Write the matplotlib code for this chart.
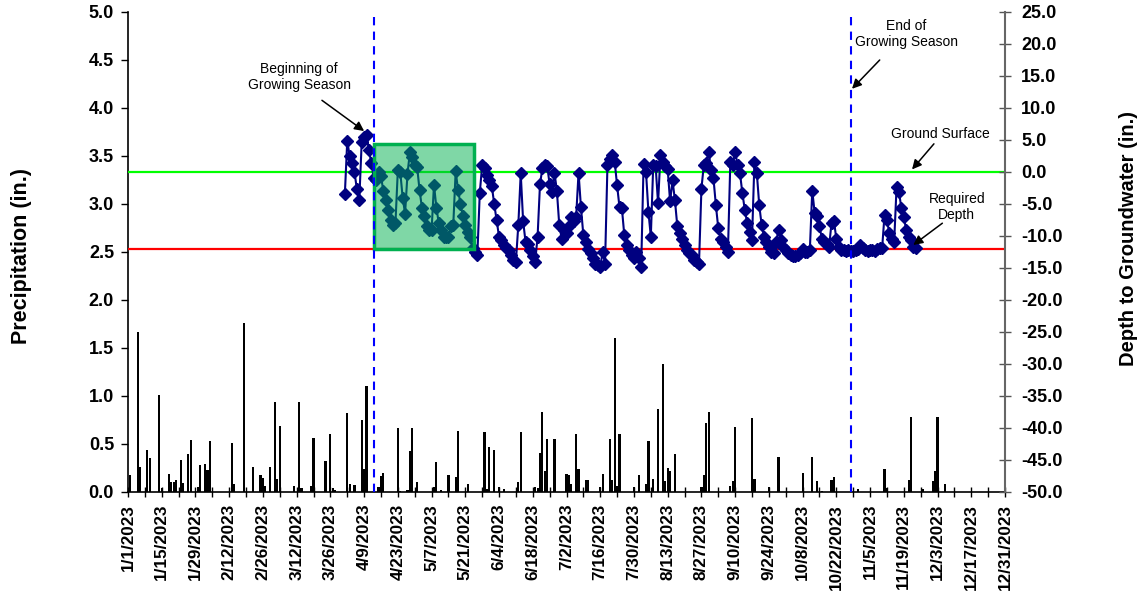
import datetime as dt
import matplotlib
matplotlib.use("Agg")
import matplotlib.pyplot as plt
import matplotlib.dates as mdates
from matplotlib.patches import Rectangle
from matplotlib.ticker import FixedLocator, MultipleLocator, FormatStrFormatter

# ---------------- data ----------------
year_start = dt.date(2023, 1, 1)
year_end = dt.date(2023, 12, 31)

# precipitation: day offset from 1/1/2023 and daily amount (in.)
precip_day = [1, 4, 5, 8, 9, 13, 14, 17, 18, 19, 20, 22, 23, 25, 26, 29, 30, 32, 33, 34,
              43, 44, 48, 52, 55, 56, 57, 59, 61, 62, 63, 69, 71, 72, 76, 77, 82, 84, 85, 86,
              91, 92, 94, 97, 98, 99, 104, 105, 106, 112, 113, 116, 117, 118, 120, 127, 128, 130,
              133, 136, 137, 141, 148, 149, 150, 152, 154, 156, 162, 163, 169, 170, 171, 172, 173,
              174, 177, 182, 183, 184, 186, 187, 190, 191, 196, 197, 200, 201, 202, 203, 204, 210,
              212, 215, 216, 218, 220, 222, 223, 224, 225, 227, 238, 239, 240, 241, 250, 251, 252,
              259, 260, 266, 270, 280, 284, 286, 288, 292, 293, 303, 314, 315, 324, 325, 330, 334,
              335, 336, 339]
precip_in = [0.18, 1.67, 0.26, 0.44, 0.35, 1.01, 0.04, 0.19, 0.10, 0.10, 0.13, 0.33, 0.09, 0.40, 0.54, 0.05, 0.28, 0.29, 0.23, 0.53,
             0.51, 0.08, 1.76, 0.26, 0.18, 0.15, 0.06, 0.26, 0.94, 0.14, 0.69, 0.06, 0.94, 0.04, 0.06, 0.56, 0.32, 0.60, 0.04, 0.02,
             0.82, 0.08, 0.07, 0.75, 0.24, 1.10, 0.05, 0.17, 0.20, 0.67, 0.01, 0.02, 0.43, 0.67, 0.10, 0.05, 0.31, 0.02,
             0.18, 0.16, 0.64, 0.08, 0.62, 0.03, 0.47, 0.44, 0.05, 0.03, 0.10, 0.62, 0.05, 0.04, 0.41, 0.83, 0.22,
             0.55, 0.55, 0.19, 0.18, 0.08, 0.60, 0.24, 0.12, 0.12, 0.05, 0.19, 0.55, 0.13, 1.60, 0.06, 0.60, 0.05,
             0.18, 0.08, 0.53, 0.14, 0.86, 1.33, 0.11, 0.25, 0.22, 0.40, 0.05, 0.18, 0.72, 0.83, 0.06, 0.11, 0.68,
             0.77, 0.14, 0.05, 0.36, 0.20, 0.36, 0.11, 0.01, 0.13, 0.16, 0.03, 0.24, 0.04, 0.12, 0.78, 0.03, 0.11,
             0.22, 0.78, 0.08]

# groundwater: daily depth (in.) starting 4/1/2023
gw_start = dt.date(2023, 4, 1)
gw_depth = [
    -3.5, 4.9, 2.5, 1.4, 0.0, -2.7, -4.3, 4.7, 5.5, 5.8,
    3.4, 1.4, -1.0, -1.3, 0.0, -0.7, -3.0, -4.3, -6.0, -7.5,
    -8.3, -8.0, 0.3, 0.0, -4.0, -6.5, -0.3, 3.1, 2.4, 1.1,
    0.8, -2.8, -5.6, -6.9, -8.5, -9.1, -9.1, -2.0, -5.6, -8.0,
    -9.0, -10.1, -10.1, -10.1, -8.5, -8.3, 0.1, -2.8, -5.0, -6.9,
    -8.3, -9.3, -10.1, -11.9, -12.5, -13.0, -3.3, 1.1, 0.6, -0.5,
    -1.2, -2.2, -5.0, -7.5, -10.1, -10.6, -11.4, -11.8, -12.2, -13.0,
    -13.8, -14.0, -8.3, -0.2, -7.7, -10.9, -11.2, -12.2, -13.2, -14.0,
    -10.1, -1.9, 0.6, 1.1, 0.9, -1.9, -3.2, -0.1, -2.9, -8.3,
    -10.4, -9.1, -9.6, -8.5, -7.0, -7.7, -7.0, -0.1, -5.5, -9.9,
    -10.9, -12.0, -12.7, -13.5, -14.3, -14.6, -14.8, -12.5, -14.3, 1.1,
    2.1, 2.7, 1.6, -2.1, -5.5, -5.7, -9.9, -11.4, -12.2, -13.0,
    -13.5, -12.5, -13.5, -14.8, 1.3, 0.0, -6.2, -10.1, 1.1, 0.9,
    -4.9, 2.7, 1.5, 0.9, 0.4, -4.6, -1.3, -4.4, -8.5, -9.5,
    -10.4, -11.4, -12.2, -12.6, -13.0, -13.7, -14.0, -14.3, -2.6, 1.1,
    1.4, 3.2, 0.3, -1.0, -5.2, -8.8, -10.4, -10.9, -11.7, -12.5,
    1.6, 1.1, 3.2, 1.1, -0.2, -3.3, -5.9, -8.0, -9.3, -10.6,
    1.6, -0.2, -5.2, -8.3, -10.1, -10.9, -11.7, -12.5, -12.7, -10.9,
    -9.0, -10.6, -11.7, -12.2, -12.7, -13.0, -13.2, -13.2, -12.9, -12.7,
    -12.0, -12.5, -12.5, -12.2, -2.9, -6.4, -6.9, -8.5, -10.4, -10.9,
    -11.2, -11.7, -7.9, -7.7, -10.4, -11.7, -12.2, -12.2, -12.3, -12.2,
    -12.3, -12.4, -12.2, -12.1, -11.4, -11.8, -12.2, -12.3, -12.2, -12.2,
    -12.3, -12.0, -11.9, -11.9, -6.7, -7.5, -9.6, -10.4, -10.9, -2.3,
    -3.1, -5.7, -7.0, -9.1, -10.1, -10.6, -11.7, -11.9]

ground_surface = 0.0
required_depth = -12.0
season_start = dt.date(2023, 4, 13)
season_end = dt.date(2023, 10, 28)
highlight_start = dt.datetime(2023, 4, 13)
highlight_end = dt.datetime(2023, 5, 24, 12)
highlight_top = 4.3

# ---------------- figure ----------------
plt.rcParams['font.family'] = ['Liberation Sans', 'DejaVu Sans']
W, H = 1145, 594
fig = plt.figure(figsize=(W / 100, H / 100), dpi=100)
ax = fig.add_axes([128 / W, 102 / H, 877 / W, 480 / H])
ax2 = ax.twinx()

d2n = mdates.date2num
px = [d2n(year_start + dt.timedelta(days=d)) for d in precip_day]
ax.bar(px, precip_in, width=0.9, color='black', zorder=2)

gx = [d2n(gw_start + dt.timedelta(days=i)) for i in range(len(gw_depth))]

ax2.axhline(ground_surface, color='#00ff00', lw=1.6, zorder=1)
ax2.axhline(required_depth, color='#ff0000', lw=1.6, zorder=1)
ax2.plot(gx, gw_depth, color='#000080', lw=1.5, marker='D', ms=6.5,
         markeredgecolor='#000080', zorder=3)

rx0 = d2n(highlight_start)
rx1 = d2n(highlight_end)
ax2.add_patch(Rectangle((rx0, required_depth), rx1 - rx0, highlight_top - required_depth,
                        facecolor=(0.0, 0.69, 0.31, 0.5), edgecolor='#00B050', lw=2.5, zorder=4))

for d in (season_start, season_end):
    ax2.axvline(d2n(d), color='#0000ff', lw=1.5, ls=(0, (4, 3)), zorder=5)

# axes setup
x0, x1 = d2n(year_start), d2n(year_end)
ax.set_xlim(x0, x1)
ax.set_ylim(0, 5)
ax2.set_ylim(-50, 25)

major = [d2n(year_start + dt.timedelta(days=k)) for k in range(0, 365, 14)]
minor = [d2n(year_start + dt.timedelta(days=k)) for k in range(7, 365, 14)]
ax.xaxis.set_major_locator(FixedLocator(major))
ax.xaxis.set_minor_locator(FixedLocator(minor))
labels = []
for k in range(0, 365, 14):
    d = year_start + dt.timedelta(days=k)
    labels.append(f"{d.month}/{d.day}/{d.year}")
ax.set_xticklabels(labels, rotation=90, fontsize=12.3, fontweight='bold')
ax.tick_params(axis='x', which='both', direction='inout', length=7, width=1, pad=5)

ax.yaxis.set_major_locator(MultipleLocator(0.5))
ax.yaxis.set_major_formatter(FormatStrFormatter('%.1f'))
ax.tick_params(axis='y', direction='out', length=5, width=1, labelsize=13, pad=5)
for t in ax.get_yticklabels():
    t.set_fontweight('bold')

ax2.yaxis.set_major_locator(MultipleLocator(5))
ax2.yaxis.set_major_formatter(FormatStrFormatter('%.1f'))
ax2.tick_params(axis='y', direction='inout', length=9, width=1, color='#555555',
                labelsize=13, pad=7)
for t in ax2.get_yticklabels():
    t.set_fontweight('bold')

for s in ('top', 'right'):
    ax.spines[s].set_visible(False)
ax2.spines['top'].set_visible(False)
ax2.spines['left'].set_visible(False)
ax2.spines['bottom'].set_visible(False)
ax2.spines['right'].set_color('#666666')
ax2.spines['right'].set_linewidth(1.5)
ax.spines['left'].set_linewidth(1.2)
ax.spines['bottom'].set_linewidth(1.2)

fig.text(22 / W, 1 - 256 / H, 'Precipitation (in.)', rotation=90, fontsize=15.5,
         fontweight='bold', ha='center', va='center')
fig.text(1128 / W, 1 - 238 / H, 'Depth to Groundwater (in.)', rotation=90, fontsize=14.5,
         fontweight='bold', ha='center', va='center')

# annotations (data coords: date, depth)
def dd(m, d, h=0):
    return d2n(dt.datetime(2023, m, d, h))

arrow = dict(arrowstyle='-|>', color='black', lw=1.1, mutation_scale=14, shrinkA=0, shrinkB=0)
ax2.text(dd(3, 13), 14.8, 'Beginning of\nGrowing Season', ha='center', va='center', fontsize=10)
ax2.annotate('', xy=(dd(4, 9), 6.4), xytext=(dd(3, 22, 12), 11.2), arrowprops=arrow)

ax2.text(dd(11, 20), 21.6, 'End of\nGrowing Season', ha='center', va='center', fontsize=10)
ax2.annotate('', xy=(dd(10, 28, 12), 13.0), xytext=(dd(11, 9), 17.5), arrowprops=arrow)

ax2.text(dd(12, 4), 5.9, 'Ground Surface', ha='center', va='center', fontsize=10)
ax2.annotate('', xy=(dd(11, 22, 10), 0.4), xytext=(dd(12, 1, 12), 4.4), arrowprops=arrow)

ax2.text(dd(12, 11), -5.5, 'Required\nDepth', ha='center', va='center', fontsize=10)
ax2.annotate('', xy=(dd(11, 22, 22), -11.4), xytext=(dd(12, 5), -8.0), arrowprops=arrow)

fig.savefig('out.png', dpi=100)
